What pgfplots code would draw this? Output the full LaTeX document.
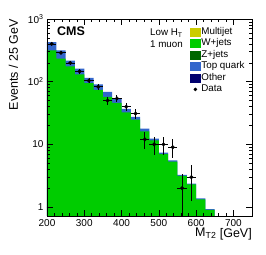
\documentclass[border=0pt]{standalone}
\usepackage{fontspec}
\setmainfont{Liberation Sans}
\usepackage{pgfplots}
\usepackage{pgfplotstable}
\pgfplotsset{compat=1.18}
\definecolor{cmulti}{RGB}{204,204,0}
\definecolor{cwjets}{RGB}{0,204,0}
\definecolor{czjets}{RGB}{0,102,0}
\definecolor{ctop}{RGB}{51,102,204}
\definecolor{cother}{RGB}{0,0,110}
\pgfplotstableread{
x wjets top
200 316 111
225 233 83
250 175 41
275 131 31
300 95 20
325 74 17
350 57 12
375 46 7
400 32.5 4.5
425 24.8 2.7
450 16.1 1.7
475 11.6 0.7
500 7.0 0.4
525 5.3 0.26
550 3.15 0.1
575 2.3 0.07
600 1.33 0.04
625 0.9 0.03
650 0.9 0.03
}\mc
\pgfplotstableread{
x y ex ey
212.5 400 12.5 20
237.5 290 12.5 17
262.5 199 12.5 14.1
287.5 146 12.5 12.1
312.5 104 12.5 10.2
337.5 83 12.5 9.1
362.5 50 12.5 7.1
387.5 54 12.5 7.3
412.5 40 12.5 6.3
437.5 31 12.5 5.6
462.5 12 12.5 3.5
487.5 10 12.5 3.2
512.5 10 12.5 3.2
537.5 9 12.5 3
562.5 2 12.5 1.41
587.5 3 12.5 1.73
}\data
\begin{document}
\begin{tikzpicture}
\path[use as bounding box] (-47pt,-39pt) rectangle (219pt,216pt);
\begin{axis}[
 scale only axis, width=205pt, height=197pt,
 at={(0pt,0pt)}, anchor=south west,
 ymode=log, log origin=infty,
 xmin=200, xmax=750, ymin=0.72, ymax=1000,
 xtick={200,300,400,500,600,700}, minor x tick num=4,
 ytick={1,10,100,1000}, yticklabels={1,10,10\textsuperscript{2},10\textsuperscript{3}},
 tick align=inside, tick pos=both,
 major tick length=6pt, minor tick length=3pt,
 every tick/.style={black, line width=0.6pt},
 axis line style={line width=0.8pt},
 axis on top,
 tick label style={font=\fontsize{10}{10}\selectfont},
 /pgf/number format/assume math mode=true,
 xlabel={M\textsubscript{T2} [GeV]},
 xlabel style={at={(axis description cs:1,-0.1066)}, anchor=base east, font=\fontsize{12.5}{13}\selectfont, inner sep=0pt},
 ylabel={Events / 25 GeV},
 ylabel style={at={(axis description cs:-0.1415,1)}, anchor=base east, font=\fontsize{12.5}{13}\selectfont, inner sep=0pt},
 legend style={at={(axis description cs:0.6976,0.9645)}, anchor=north west, draw=none, fill=none,
   font=\fontsize{9.8}{11}\selectfont, row sep=0pt, inner sep=0pt,
   nodes={inner sep=0.8pt, text height=7.2pt, text depth=2.7pt}},
 legend cell align=left,
]
\addplot[ybar interval, fill=ctop, draw=none, forget plot] table[x=x, y expr=\thisrow{wjets}+\thisrow{top}] \mc;
\addplot[ybar interval, fill=cwjets, draw=none, forget plot] table[x=x, y=wjets] \mc;
\addplot[only marks, mark=*, mark size=1.8pt, black, forget plot,
  error bars/.cd, x dir=both, x explicit, y dir=both, y explicit,
  error bar style={line width=0.8pt, black}, error mark=none]
  table[x=x, y=y, x error=ex, y error=ey] \data;
\addlegendimage{legend image code/.code={\fill[cmulti] (0pt,-4pt) rectangle (10pt,4pt);}}
\addlegendimage{legend image code/.code={\fill[cwjets] (0pt,-4pt) rectangle (10pt,4pt);}}
\addlegendimage{legend image code/.code={\fill[czjets] (0pt,-4pt) rectangle (10pt,4pt);}}
\addlegendimage{legend image code/.code={\fill[ctop] (0pt,-4pt) rectangle (10pt,4pt);}}
\addlegendimage{legend image code/.code={\fill[cother] (0pt,-4pt) rectangle (10pt,4pt);}}
\addlegendimage{legend image code/.code={\fill[black] (5pt,0pt) circle (1.6pt);}}
\legend{Multijet, W+jets, Z+jets, Top quark, Other, Data}
\node[anchor=base west, inner sep=0pt, font=\fontsize{12.5}{13}\selectfont\bfseries] at (axis description cs:0.0488,0.915) {CMS};
\node[anchor=base west, inner sep=0pt, font=\fontsize{9.8}{10}\selectfont] at (axis description cs:0.502,0.914) {Low H\textsubscript{T}};
\node[anchor=base west, inner sep=0pt, font=\fontsize{9.8}{10}\selectfont] at (axis description cs:0.502,0.856) {1 muon};
\node[anchor=base east, inner sep=0pt, font=\fontsize{8.7}{9}\selectfont] at (axis description cs:1.029,1.025) {19.5 fb\textsuperscript{-1} (8 TeV)};
\end{axis}
\end{tikzpicture}
\end{document}
